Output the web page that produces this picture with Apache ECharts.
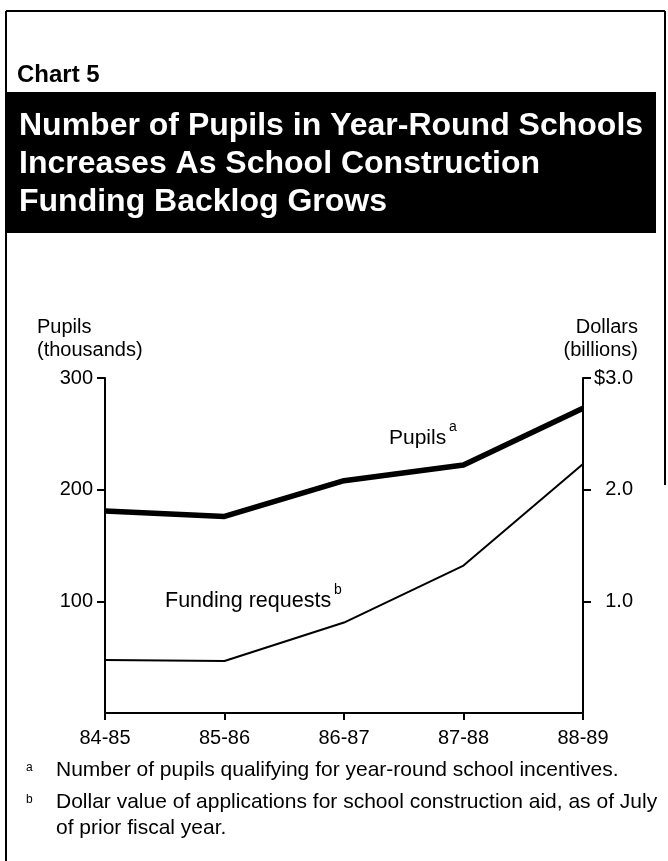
<!DOCTYPE html>
<html>
<head>
<meta charset="utf-8">
<script src="https://cdn.jsdelivr.net/npm/echarts@6/dist/echarts.min.js"></script>
<style>
html,body{margin:0;padding:0;background:#fff;}
#chart{width:668px;height:861px;}
</style>
</head>
<body>
<div id="chart"></div>
<script>
// ---- data ----
const categories = ['84-85', '85-86', '86-87', '87-88', '88-89'];
const pupilsThousands = [181, 176, 208, 222, 273];
const fundingBillions = [0.475, 0.466, 0.81, 1.32, 2.23];
const leftTickValues = [100, 200, 300];
const rightTickValues = [1, 2, 3];
const chartLabel = 'Chart 5';
const titleLines = ['Number of Pupils in Year-Round Schools', 'Increases As School Construction', 'Funding Backlog Grows'];
const footnoteA = 'Number of pupils qualifying for year-round school incentives.';
const footnoteB = ['Dollar value of applications for school construction aid, as of July', 'of prior fiscal year.'];

const FONT = '"Liberation Sans", Arial, Helvetica, sans-serif';
const chart = echarts.init(document.getElementById('chart'), null, {renderer: 'canvas'});

function txt(text, x, y, size, opts) {
  opts = opts || {};
  return {
    type: 'text',
    style: {
      text: text, x: x, y: y,
      font: (opts.bold ? 'bold ' : '') + size + 'px ' + FONT,
      fill: opts.fill || '#000',
      textAlign: opts.align || 'left', align: opts.align || 'left',
      textVerticalAlign: 'middle', verticalAlign: 'middle'
    },
    z: 100
  };
}

const axisLineStyle = {color: '#000', width: 2};
const option = {
  backgroundColor: '#fff',
  animation: false,
  grid: {left: 105, right: 85, top: 378, bottom: 148, containLabel: false, outerBoundsMode: 'none'},
  xAxis: {
    type: 'category',
    data: categories,
    boundaryGap: false,
    axisLine: {show: true, lineStyle: axisLineStyle},
    axisTick: {show: true, length: 7, inside: false, lineStyle: axisLineStyle},
    axisLabel: {color: '#000', fontSize: 20, fontFamily: FONT, margin: 15},
    splitLine: {show: false}
  },
  yAxis: [
    {
      type: 'value', min: 0, max: 300, interval: 100, position: 'left',
      axisLine: {show: true, lineStyle: axisLineStyle},
      axisTick: {show: true, length: 8, inside: false, customValues: leftTickValues, lineStyle: axisLineStyle},
      axisLabel: {color: '#000', fontSize: 20, fontFamily: FONT, margin: 12, customValues: leftTickValues},
      splitLine: {show: false}
    },
    {
      type: 'value', min: 0, max: 3, interval: 1, position: 'right',
      axisLine: {show: true, lineStyle: axisLineStyle},
      axisTick: {show: true, length: 8, inside: false, customValues: rightTickValues, lineStyle: axisLineStyle},
      axisLabel: {
        color: '#000', fontSize: 20, fontFamily: FONT, margin: 50, align: 'right',
        customValues: rightTickValues,
        formatter: function (v) { return (v === 3 ? '$' : '') + v.toFixed(1); }
      },
      splitLine: {show: false}
    }
  ],
  series: [
    {
      name: 'Pupils', type: 'line', yAxisIndex: 0, data: pupilsThousands,
      symbol: 'none', lineStyle: {color: '#000', width: 5.5}, z: 5
    },
    {
      name: 'Funding requests', type: 'line', yAxisIndex: 1, data: fundingBillions,
      symbol: 'none', lineStyle: {color: '#000', width: 2}, z: 4
    }
  ],
  graphic: [
    // frame
    {type: 'line', shape: {x1: 6, y1: 11, x2: 665, y2: 11}, style: {stroke: '#000', lineWidth: 2}},
    {type: 'line', shape: {x1: 6, y1: 11, x2: 6, y2: 861}, style: {stroke: '#000', lineWidth: 2}},
    {type: 'line', shape: {x1: 665, y1: 11, x2: 665, y2: 485}, style: {stroke: '#000', lineWidth: 2}},
    txt(chartLabel, 17, 75, 24, {bold: true}),
    {type: 'rect', shape: {x: 6, y: 92, width: 650, height: 141}, style: {fill: '#000'}},
    txt(titleLines[0], 19, 126, 32, {bold: true, fill: '#fff'}),
    txt(titleLines[1], 19, 164, 32, {bold: true, fill: '#fff'}),
    txt(titleLines[2], 19, 202, 32, {bold: true, fill: '#fff'}),
    // axis names
    txt('Pupils', 37, 327, 20),
    txt('(thousands)', 37, 350, 20),
    txt('Dollars', 638, 327, 20, {align: 'right'}),
    txt('(billions)', 638, 350, 20, {align: 'right'}),
    // series annotations
    txt('Pupils', 389, 438, 21),
    txt('a', 449, 427, 14),
    txt('Funding requests', 165, 601, 21.5),
    txt('b', 334, 590, 14),
    // footnotes
    txt('a', 26, 768, 12),
    txt(footnoteA, 56, 770, 21),
    txt('b', 26, 800, 12),
    txt(footnoteB[0], 56, 802, 21),
    txt(footnoteB[1], 56, 828, 21)
  ]
};
chart.setOption(option);
</script>
</body>
</html>
